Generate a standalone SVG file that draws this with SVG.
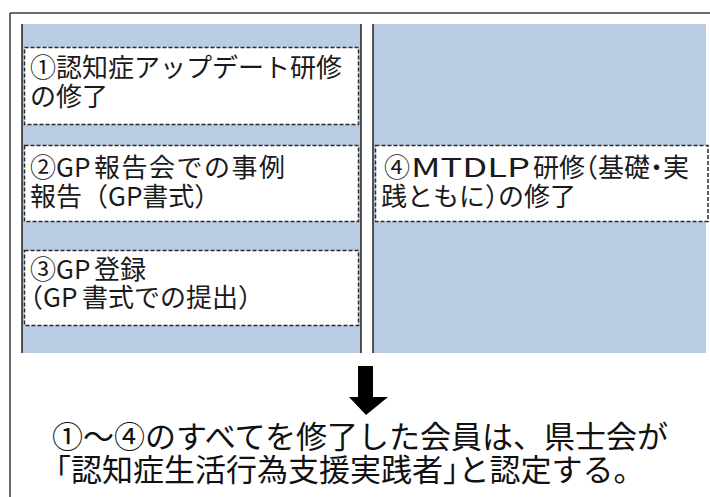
<svg xmlns="http://www.w3.org/2000/svg" width="710" height="497" viewBox="0 0 710 497">
<defs>
<style>
.frame{fill:none;stroke:#3a3a3a;stroke-width:1.5}
.col{fill:#b9cce4}
.sep{stroke:#222222;stroke-width:1.5}
.box{fill:#ffffff;stroke:#2a2a2a;stroke-width:1.5;stroke-dasharray:4 2}
.t{font-family:"Noto Sans CJK JP","Noto Sans CJK SC",sans-serif;font-size:26px;fill:#1a1a1a}
.big{font-family:"Noto Sans CJK JP","Noto Sans CJK SC",sans-serif;font-size:31px;fill:#111111}
.h{font-feature-settings:"halt"}
</style>
</defs>
<rect x="0" y="0" width="710" height="497" fill="#ffffff"/>
<g id="frame">
<line class="frame" x1="10" y1="13" x2="710" y2="13"/>
<line class="frame" x1="10" y1="13" x2="10" y2="497"/>
</g>
<g id="columns">
<rect class="col" x="22" y="24" width="339" height="329"/>
<rect class="col" x="373" y="24" width="333" height="329"/>
<line class="sep" x1="22" y1="24" x2="22" y2="353"/>
<line class="sep" x1="361" y1="24" x2="361" y2="353"/>
<line class="sep" x1="373" y1="24" x2="373" y2="353"/>
</g>
<g id="node1">
<rect class="box" x="24.5" y="47.5" width="334" height="77"/>
<text class="t" x="30" y="77">①認知症アップデート研修</text>
<text class="t" x="30" y="106">の修了</text>
</g>
<g id="node2">
<rect class="box" x="24.5" y="145.5" width="334" height="76"/>
<text class="t" x="30" y="177">②GP<tspan x="94" letter-spacing="1.5">報告会での事例</tspan></text>
<text class="t" x="30" y="206">報告（GP書式）</text>
</g>
<g id="node3">
<rect class="box" x="24.5" y="250.5" width="334" height="75"/>
<text class="t" x="30" y="279">③GP<tspan x="94">登録</tspan></text>
<text class="t" x="17" y="307">（GP<tspan x="82">書式での提出）</tspan></text>
</g>
<g id="node4">
<rect class="box" x="375.5" y="145.5" width="332.5" height="76"/>
<text class="t" x="384" y="177">④<tspan x="411" textLength="119" lengthAdjust="spacingAndGlyphs">MTDLP</tspan><tspan x="533">研修</tspan><tspan x="585" class="h">（</tspan><tspan x="598">基礎</tspan><tspan x="650" class="h">・</tspan><tspan x="663">実</tspan></text>
<text class="t" x="381" y="206">践ともに<tspan x="485" class="h">）</tspan><tspan x="498">の</tspan><tspan x="524">修了</tspan></text>
</g>
<g id="connectors">
<polygon points="358,366 373,366 373,397 388,397 366,415 349,397 358,397" fill="#000000"/>
</g>
<g id="result">
<text class="big" x="52" y="448">①～④のすべてを修了した会員は、県士会が</text>
<text class="big" x="40" y="481">「認知症生活行為支援実践者<tspan class="h">」</tspan>と認定する。</text>
</g>
</svg>
